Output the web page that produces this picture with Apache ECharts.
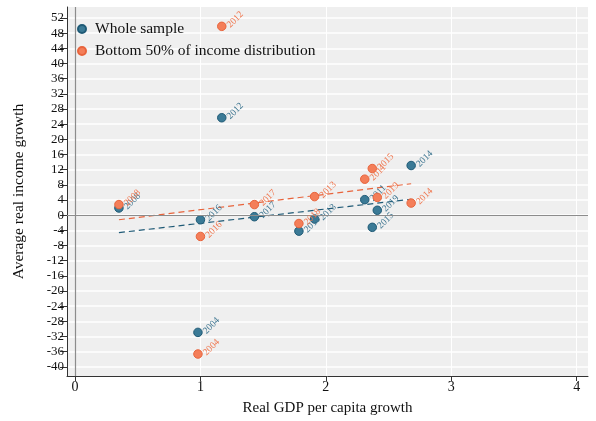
<!DOCTYPE html>
<html>
<head>
<meta charset="utf-8">
<script src="https://cdn.jsdelivr.net/npm/echarts@6/dist/echarts.min.js"></script>
<style>html,body{margin:0;padding:0;background:#fff}#c{width:596px;height:421px}</style>
</head>
<body>
<div id="c"></div>
<script>
var years = ['2004','2008','2011','2012','2013','2014','2015','2016','2017','2018','2019'];
var gdpGrowth = [0.98, 0.35, 2.31, 1.17, 1.91, 2.68, 2.37, 1.00, 1.43, 1.785, 2.41];
var wholeSample = [-30.9, 1.9, 4.1, 25.7, -1.0, 13.1, -3.2, -1.2, -0.4, -4.2, 1.3];
var bottom50 = [-36.6, 2.8, 9.5, 49.8, 4.9, 3.2, 12.3, -5.6, 2.8, -2.2, 4.7];
var fitX = [0.35, 2.68];
var fitWhole = [-4.6, 4.2];
var fitBottom = [-1.2, 8.3];
var yTicks = [-40,-36,-32,-28,-24,-20,-16,-12,-8,-4,0,4,8,12,16,20,24,28,32,36,40,44,48,52];
var xTicks = [0,1,2,3,4];

var FONT = "'Liberation Serif','Times New Roman',serif";
var BLUE = '#3b7a96', BLUE_D = '#1f5a76';
var ORANGE = '#f47e59', ORANGE_D = '#e8643c';

function pts(ys){ return years.map(function(y,i){ return {value:[gdpGrowth[i], ys[i]], name:y}; }); }
function line(ys){ return fitX.map(function(x,i){ return [x, ys[i]]; }); }

var chart = echarts.init(document.getElementById('c'), null, {renderer:'canvas'});
chart.setOption({
  animation:false,
  backgroundColor:'#fff',
  grid:{left:67,right:8,top:7,bottom:45,show:true,backgroundColor:'#efefef',borderWidth:0},
  legend:{
    orient:'vertical', left:72, top:16, itemGap:6, itemWidth:8, itemHeight:8,
    textStyle:{fontFamily:FONT,fontSize:15.5,color:'#111',padding:[0,0,0,4]},
    data:[{name:'Whole sample',icon:'circle'},{name:'Bottom 50% of income distribution',icon:'circle'}]
  },
  xAxis:{
    type:'value', min:-0.064, max:4.09,
    name:'Real GDP per capita growth', nameLocation:'middle', nameGap:25,
    nameTextStyle:{fontFamily:FONT,fontSize:15,color:'#111'},
    axisLine:{show:true,onZero:false,lineStyle:{color:'#333',width:1}},
    axisTick:{show:true,length:5,customValues:xTicks,lineStyle:{color:'#333'}},
    axisLabel:{customValues:xTicks,fontFamily:FONT,fontSize:14,color:'#111',margin:4},
    splitLine:{show:true,lineStyle:{color:'#ffffff',width:1}}
  },
  yAxis:{
    type:'value', min:-42.4, max:54.9,
    name:'Average real income growth', nameLocation:'middle', nameGap:40,
    nameTextStyle:{fontFamily:FONT,fontSize:15.5,color:'#111'},
    axisLine:{show:true,onZero:false,lineStyle:{color:'#333',width:1}},
    axisTick:{show:true,length:7,customValues:yTicks,lineStyle:{color:'#333'}},
    axisLabel:{customValues:yTicks,fontFamily:FONT,fontSize:13,color:'#111',margin:3},
    splitLine:{show:true,lineStyle:{color:'#ffffff',width:1.5}}
  },
  series:[
    {
      name:'zero', type:'line', data:[], silent:true,
      markLine:{silent:true,symbol:'none',label:{show:false},lineStyle:{color:'#8c8c8c',width:1.2,type:'solid'},
        data:[{yAxis:0},{xAxis:0}]}
    },
    {
      name:'fitWhole', type:'line', data:line(fitWhole), showSymbol:false, symbol:'none', silent:true,
      lineStyle:{color:BLUE_D,width:1.2,type:[6,4]}, z:3
    },
    {
      name:'fitBottom', type:'line', data:line(fitBottom), showSymbol:false, symbol:'none', silent:true,
      lineStyle:{color:ORANGE_D,width:1.2,type:[6,4]}, z:3
    },
    {
      name:'Whole sample', type:'scatter', data:pts(wholeSample), symbolSize:8.5, z:4,
      itemStyle:{color:BLUE,borderColor:BLUE_D,borderWidth:1,opacity:1},
      label:{show:true,position:'right',distance:2,rotate:45,formatter:'{b}',
        fontFamily:FONT,fontSize:9.5,color:'#3d7590'}
    },
    {
      name:'Bottom 50% of income distribution', type:'scatter', data:pts(bottom50), symbolSize:8.5, z:5,
      itemStyle:{color:ORANGE,borderColor:ORANGE_D,borderWidth:1,opacity:1},
      label:{show:true,position:'right',distance:2,rotate:45,formatter:'{b}',
        fontFamily:FONT,fontSize:9.5,color:'#f0764e'}
    }
  ]
});
</script>
</body>
</html>
